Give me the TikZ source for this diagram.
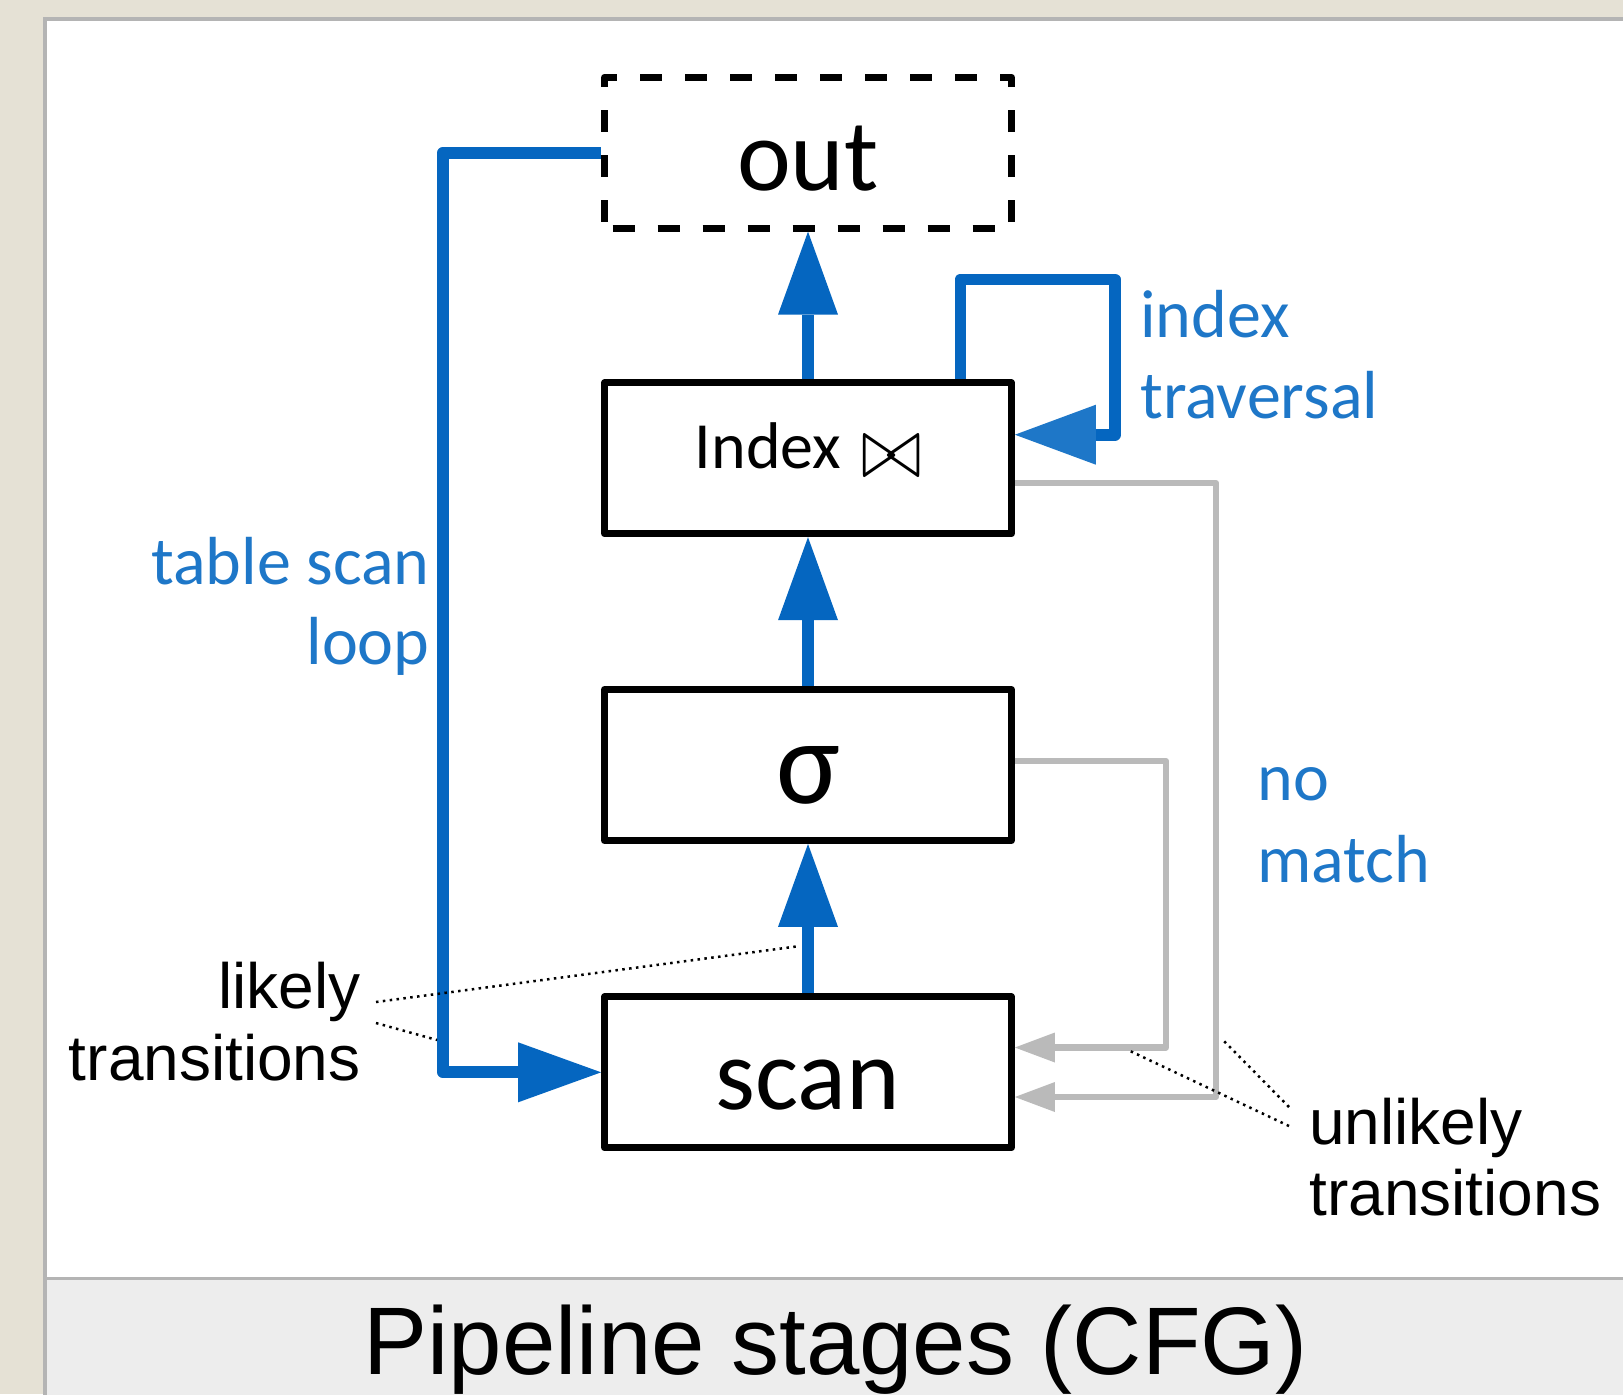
\documentclass[tikz,border=0pt]{standalone}
\usepackage{fontspec}
\setmainfont{Carlito}
\newfontfamily\arialfont{Liberation Sans}
\usetikzlibrary{arrows.meta,calc}

\definecolor{beige}{RGB}{229,225,213}
\definecolor{framegray}{RGB}{180,180,180}
\definecolor{capbg}{RGB}{237,237,237}
\definecolor{flowblue}{RGB}{5,102,192}
\definecolor{labelblue}{RGB}{30,119,200}
\definecolor{rareg}{RGB}{186,186,186}

\begin{document}
\begin{tikzpicture}[x=0.5pt,y=-0.5pt,
  stage/.style={draw=black, line width=3.4pt, line join=round,
    minimum width=203.5pt, minimum height=75.5pt, inner sep=0pt,
    font=\fontsize{51pt}{60pt}\selectfont, text depth=0pt},
  hot/.style={draw=flowblue, line width=5.9pt, line join=round,
    -{Triangle[length=41.5pt,width=30pt,line width=0pt]}},
  cold/.style={draw=rareg, line width=3.1pt, line join=round,
    -{Triangle[length=20pt,width=15pt,line width=0pt]}},
  hint/.style={black, line width=1.25pt, dash pattern=on 1.25pt off 2.2pt},
  bluelbl/.style={text=labelblue, inner sep=0pt,
    font=\fontsize{34pt}{40pt}\selectfont},
  blacklbl/.style={inner sep=0pt,
    font=\arialfont\fontsize{32pt}{36pt}\selectfont}
]
\useasboundingbox (0,0) rectangle (1623,1394);

% page background, panel and caption band
\fill[beige] (0,0) rectangle (1623,1394);
\fill[white] (45,19) rectangle (1640,1420);
\draw[framegray, line width=1.75pt] (45,1420) -- (45,19) -- (1640,19);
\fill[capbg] (46.75,1279) rectangle (1640,1420);
\draw[framegray, line width=1.5pt] (46.75,1278) -- (1640,1278);
\node[font=\arialfont\fontsize{48pt}{56pt}\selectfont, inner sep=0pt,
  anchor=base] (caption) at (835.5,1374) {Pipeline stages (CFG)};

% pipeline stages
\node[stage, dash pattern=on 11pt off 11.5pt, dash phase=-4pt, text height=37.3pt] (out) at (808,152.7) {out};
\node[stage, font=\fontsize{33pt}{40pt}\selectfont, text height=9.7pt] (index) at (808,458.3)
  {Index\hspace{10pt}\raisebox{-4.8pt}{\resizebox{30pt}{20.5pt}{$\bowtie$}}};
\node[stage, font=\fontsize{60pt}{66pt}\selectfont, text height=38pt] (sigma) at (808,765) {σ};
\node[stage, text height=37.5pt] (scan) at (808,1072.3) {scan};

% likely transitions
\draw[hot] (scan.north) -- (sigma.south);
\draw[hot] (sigma.north) -- (index.south);
\draw[hot] (index.north) -- (out.south);

\coordinate (loopcorner) at (443,1072.3);
\draw[hot] (out.west) -| (loopcorner) -- (scan.west);

\coordinate (trA) at (960.5,279.5);
\coordinate (trB) at (1115,434.7);
\draw[hot, -{Triangle[length=40.5pt,width=30pt,line width=0pt,color=labelblue]}]
  (index.north -| trA) -- (trA) -| (trB) -- (index.east |- trB);

% unlikely transitions
\coordinate (nmA) at (1216,483);
\coordinate (nmB) at (1216,1097);
\draw[cold] (index.east |- nmA) -- (nmA) -- (nmB) -- (scan.east |- nmB);
\coordinate (sgA) at (1166,761);
\coordinate (sgB) at (1166,1047.5);
\draw[cold] (sigma.east |- sgA) -- (sgA) -- (sgB) -- (scan.east |- sgB);

% edge labels
\node[bluelbl, anchor=base east] (tbl1) at (430,584) {table scan};
\node[bluelbl, anchor=base east] (tbl2) at (430,664) {loop};
\node[bluelbl, anchor=base west] (idx1) at (1140,337) {index};
\node[bluelbl, anchor=base west] (idx2) at (1140,418) {traversal};
\node[bluelbl, anchor=base west] (nm1) at (1257,800) {no};
\node[bluelbl, anchor=base west] (nm2) at (1257,882) {match};

% annotations with leader lines
\node[blacklbl, anchor=base east] (lk1) at (361,1008) {likely};
\node[blacklbl, anchor=base east] (lk2) at (361,1080) {transitions};
\node[blacklbl, anchor=base west] (ul1) at (1309,1144) {unlikely};
\node[blacklbl, anchor=base west] (ul2) at (1309,1215) {transitions};

\coordinate (lkA) at (376,1002);
\coordinate (lkB) at (800,946);
\coordinate (lkC) at (376,1023);
\coordinate (lkD) at (437,1040);
\draw[hint] (lkA) -- (lkB);
\draw[hint] (lkC) -- (lkD);

\coordinate (ulA) at (1289,1126);
\coordinate (ulB) at (1128,1050);
\coordinate (ulC) at (1289,1107);
\coordinate (ulD) at (1223,1040);
\draw[hint] (ulA) -- (ulB);
\draw[hint] (ulC) -- (ulD);
\end{tikzpicture}
\end{document}
